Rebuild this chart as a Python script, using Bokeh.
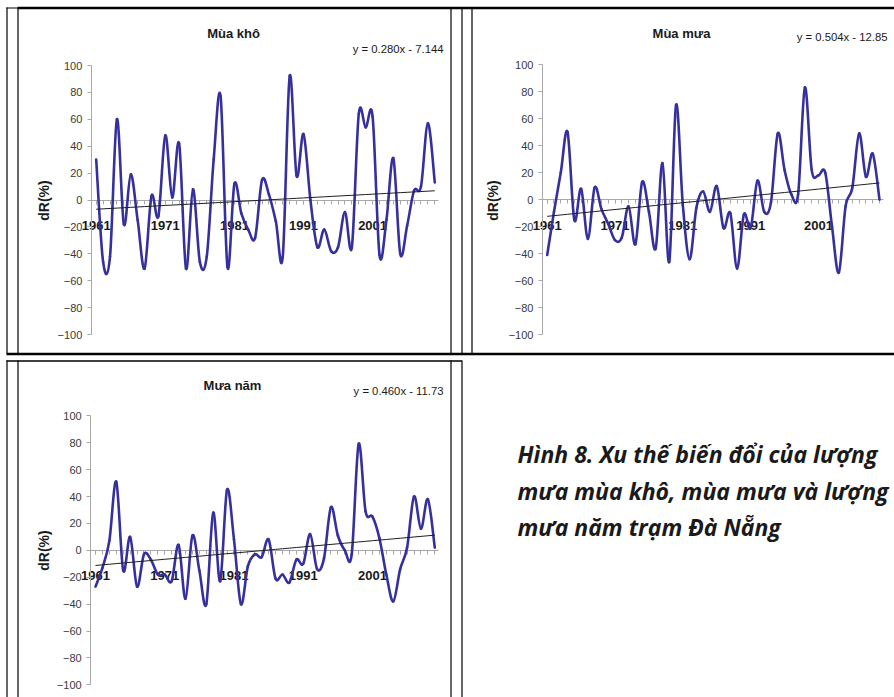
import numpy as np
from bokeh.plotting import figure
from bokeh.models import Range1d, LinearAxis, FixedTicker
from bokeh.core.properties import value
from bokeh.embed import file_html
from bokeh.resources import INLINE

# ---------------- data ----------------
years = list(range(1961, 2011))
dry_season = [30, -46, -42, 60, -18, 19, -15, -51, 3, -12,
              48, 2, 42, -51, 8, -46, -42, 30, 77, -50,
              12, -10, -22, -28, 15, 4, -16, -42, 92, 18,
              49, 0, -35, -22, -38, -35, -9, -35, 64, 54,
              62, -41, -15, 31, -40, -19, 7, 10, 57, 13]
rainy_season = [-41, -9, 20, 50, -15, 8, -29, 9, -7, -18,
                -30, -28, -5, -33, 13, -9, -36, 27, -46, 70,
                -4, -44, -6, 6, -9, 10, -21, -10, -51, -11,
                -21, 14, -9, -2, 49, 22, 4, 4, 83, 22,
                18, 20, -20, -54, -5, 9, 49, 17, 34, 0]
annual = [-27, -13, 7, 51, -15, 10, -27, -3, -7, -18,
          -18, -23, 4, -36, 11, -15, -40, 28, -23, 45,
          8, -40, -12, -3, -5, 8, -21, -18, -24, -7,
          -10, 12, -14, -6, 32, 11, 0, -3, 79, 29,
          25, 9, -18, -38, -14, 2, 40, 16, 38, 2]
titles = ["Mùa khô", "Mùa mưa", "Mưa năm"]
slopes = [0.280, 0.504, 0.460]
intercepts = [-7.144, -12.85, -11.73]
equations = ["y = 0.280x - 7.144", "y = 0.504x - 12.85", "y = 0.460x - 11.73"]
y_ticks = list(range(-100, 101, 20))
x_major = [1961, 1971, 1981, 1991, 2001]
y_title = "dR(%)"
caption_lines = ["Hình 8. Xu thế biến đổi của lượng",
                 "mưa mùa khô, mùa mưa và lượng",
                 "mưa năm trạm Đà Nẵng"]

# ---------------- layout / style ----------------
W, H = 894, 697
FONT = "Liberation Sans"
LINE = "#36309e"
AXIS = "#a8a8a8"
TXT = "#1a1a1a"

series = [dry_season, rainy_season, annual]
# page-pixel anchors of each panel: (x of 1961, x of 2010), (y of 100, y of -100)
panels = [
    dict(xpx=(95.7, 434.3), ypx=(65.0, 334.0), title=(233, 33), eq=(443, 48), lab=(43, 200)),
    dict(xpx=(546.7, 879.0), ypx=(64.0, 334.3), title=(681, 33), eq=(887, 36), lab=(492, 200)),
    dict(xpx=(95.0, 434.3), ypx=(415.3, 684.3), title=(232, 385), eq=(443, 390), lab=(43, 550)),
]

p = figure(width=W, height=H, x_range=Range1d(0, W), y_range=Range1d(H, 0),
           x_axis_type=None, y_axis_type=None, min_border=0,
           toolbar_location=None, output_backend="svg")
p.outline_line_color = None
p.background_fill_color = "white"
p.border_fill_color = "white"

# table borders (page pixels)
vx = [6.5, 17.5, 450.5, 461.5, 471.5]
p.segment(x0=vx, y0=[7] * 5, x1=vx, y1=[353] * 5, line_color="black", line_width=1.2)
vx3 = [6.5, 17.5, 450.5, 461.5]
p.segment(x0=vx3, y0=[360] * 4, x1=vx3, y1=[H] * 4, line_color="black", line_width=1.2)
p.segment(x0=[6, 17, 6], y0=[7.5, 7.5, 353.5], x1=[17, W, W], y1=[7.5, 7.5, 353.5],
          line_color="black", line_width=[1.2, 2.4, 2.4])
p.segment(x0=[6], y0=[360.5], x1=[461.5], y1=[360.5], line_color="black", line_width=1.4)


def lin_range(va, pa, vb, pb, p_start, p_end):
    m = (vb - va) / (pb - pa)
    return Range1d(start=va + (p_start - pa) * m, end=va + (p_end - pa) * m)


def bezier_parts(x, y):
    x = np.asarray(x, float)
    y = np.asarray(y, float)
    n = len(x)
    xp = np.concatenate([[x[0]], x, [x[-1]]])
    yp = np.concatenate([[y[0]], y, [y[-1]]])
    return dict(
        x0=x[:-1], y0=y[:-1], x1=x[1:], y1=y[1:],
        cx0=x[:-1] + (xp[2:n + 1] - xp[0:n - 1]) / 6.0,
        cy0=y[:-1] + (yp[2:n + 1] - yp[0:n - 1]) / 6.0,
        cx1=x[1:] - (xp[3:n + 2] - xp[1:n]) / 6.0,
        cy1=y[1:] - (yp[3:n + 2] - yp[1:n]) / 6.0,
    )


for k, vals in enumerate(series):
    name = "c%d" % k
    pn = panels[k]
    p.extra_x_ranges[name] = lin_range(years[0], pn["xpx"][0], years[-1], pn["xpx"][1], 0, W)
    p.extra_y_ranges[name] = lin_range(100, pn["ypx"][0], -100, pn["ypx"][1], H, 0)

    yax = LinearAxis(x_range_name=name, y_range_name=name, fixed_location=1960.3,
                     bounds=(-100, 100), ticker=FixedTicker(ticks=y_ticks))
    yax.axis_line_color = AXIS
    yax.major_tick_line_color = AXIS
    yax.major_tick_out = 4
    yax.major_tick_in = 0
    yax.minor_tick_line_color = None
    yax.major_label_text_font = FONT
    yax.major_label_text_font_size = "11px"
    yax.major_label_text_color = "#3a3a3a"
    yax.major_label_standoff = 5
    yax.level = "underlay"
    p.add_layout(yax, "left")

    xax = LinearAxis(x_range_name=name, y_range_name=name, fixed_location=0,
                     bounds=(1960.3, 2010.6),
                     ticker=FixedTicker(ticks=x_major, minor_ticks=years))
    xax.axis_line_color = AXIS
    xax.major_tick_line_color = AXIS
    xax.minor_tick_line_color = AXIS
    xax.major_tick_out = 4
    xax.major_tick_in = 0
    xax.minor_tick_out = 4
    xax.minor_tick_in = 0
    xax.major_label_text_font = FONT
    xax.major_label_text_font_style = "bold"
    xax.major_label_text_font_size = "13px"
    xax.major_label_text_color = TXT
    xax.major_label_standoff = 17
    xax.level = "underlay"
    p.add_layout(xax, "below")

    p.bezier(line_color=LINE, line_width=2.6, line_cap="round",
             x_range_name=name, y_range_name=name, **bezier_parts(years, vals))

    trend = [slopes[k] * (i + 1) + intercepts[k] for i in range(len(years))]
    p.line(years, trend, line_color="#1e1e1e", line_width=1,
           x_range_name=name, y_range_name=name)

    p.text(x=[pn["title"][0]], y=[pn["title"][1]], text=[titles[k]],
           text_font=value(FONT), text_font_size="13px", text_font_style="bold",
           text_color=TXT, text_align="center", text_baseline="middle")
    p.text(x=[pn["eq"][0]], y=[pn["eq"][1]], text=[equations[k]],
           text_font=value(FONT), text_font_size="11.3px",
           text_color=TXT, text_align="right", text_baseline="middle")
    p.text(x=[pn["lab"][0]], y=[pn["lab"][1]], text=[y_title], angle=np.pi / 2,
           text_font=value(FONT), text_font_size="14px", text_font_style="bold",
           text_color=TXT, text_align="center", text_baseline="middle")

cap_y = [453.5, 490, 526.5]
p.text(x=[517] * 3, y=cap_y, text=caption_lines,
       text_font=value("Open Sans"), text_font_size="23px", text_font_style="bold italic",
       text_color=TXT, text_align="left", text_baseline="middle")

open("out.html", "w").write(file_html(p, INLINE))
